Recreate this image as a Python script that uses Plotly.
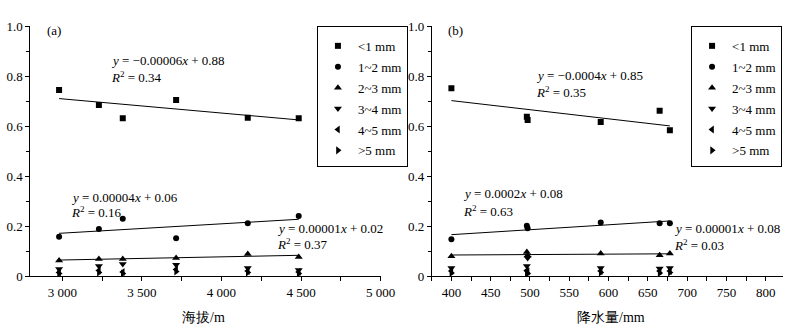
import numpy as np
import plotly.graph_objects as go

# ---------------- data ----------------
classes = ["<1 mm", "1~2 mm", "2~3 mm", "3~4 mm", "4~5 mm", ">5 mm"]

altitude = [2980, 3230, 3380, 3715, 4165, 4485]
a_lt1 = [0.744, 0.684, 0.631, 0.704, 0.633, 0.631]
a_1_2 = [0.157, 0.188, 0.229, 0.151, 0.211, 0.240]
a_2_3 = [0.062, 0.068, 0.068, 0.072, 0.088, 0.076]
a_3_4 = [0.028, 0.040, 0.048, 0.045, 0.032, 0.024]
a_4_5 = [0.014, 0.022, 0.016, 0.026, 0.020, 0.016]
a_gt5 = [0.010, 0.014, 0.010, 0.018, 0.014, 0.010]

precip = [400, 496, 497, 590, 665, 678]
b_lt1 = [0.751, 0.637, 0.624, 0.616, 0.661, 0.583]
b_1_2 = [0.147, 0.201, 0.191, 0.214, 0.211, 0.211]
b_2_3 = [0.079, 0.096, 0.082, 0.090, 0.083, 0.090]
b_3_4 = [0.032, 0.040, 0.072, 0.032, 0.030, 0.032]
b_4_5 = [0.020, 0.022, 0.018, 0.020, 0.020, 0.020]
b_gt5 = [0.012, 0.012, 0.010, 0.014, 0.012, 0.014]

eq_a = ["<i>y</i> = −0.00006<i>x</i> + 0.88", "<i>y</i> = 0.00004<i>x</i> + 0.06", "<i>y</i> = 0.00001<i>x</i> + 0.02"]
r2_a = ["<i>R</i><sup>2</sup> = 0.34", "<i>R</i><sup>2</sup> = 0.16", "<i>R</i><sup>2</sup> = 0.37"]
eq_b = ["<i>y</i> = −0.0004<i>x</i> + 0.85", "<i>y</i> = 0.0002<i>x</i> + 0.08", "<i>y</i> = 0.00001<i>x</i> + 0.08"]
r2_b = ["<i>R</i><sup>2</sup> = 0.35", "<i>R</i><sup>2</sup> = 0.63", "<i>R</i><sup>2</sup> = 0.03"]

y_ticks = [0, 0.2, 0.4, 0.6, 0.8, 1.0]
y_ticktext = ["0", "0.2", "0.4", "0.6", "0.8", "1.0"]
xa_ticks = [3000, 3500, 4000, 4500, 5000]
xa_ticktext = ["3 000", "3 500", "4 000", "4 500", "5 000"]
xb_ticks = [400, 450, 500, 550, 600, 650, 700, 750, 800]

# ---------------- figure ----------------
FONT = "Liberation Serif, Times New Roman, serif"
symbols = ["square", "circle", "triangle-up", "triangle-down", "triangle-left", "triangle-right"]
sizes = [6, 6, 7, 7, 7, 7]

fig = go.Figure()

def add_panel(xv, series, xaxis, yaxis, legend):
    for i, (name, yv) in enumerate(zip(classes, series)):
        fig.add_trace(go.Scatter(
            x=xv, y=yv, mode="markers", name=name,
            marker=dict(symbol=symbols[i], size=sizes[i], color="black"),
            xaxis=xaxis, yaxis=yaxis, legend=legend, legendgroup=legend + str(i),
        ))
    for yv in series[:3]:
        k, b = np.polyfit(xv, yv, 1)
        xs = np.array([min(xv), max(xv)])
        fig.add_trace(go.Scatter(
            x=xs, y=k * xs + b, mode="lines", line=dict(color="black", width=1),
            showlegend=False, hoverinfo="skip", xaxis=xaxis, yaxis=yaxis,
        ))

add_panel(altitude, [a_lt1, a_1_2, a_2_3, a_3_4, a_4_5, a_gt5], "x", "y", "legend")
add_panel(precip, [b_lt1, b_1_2, b_2_3, b_3_4, b_4_5, b_gt5], "x2", "y2", "legend2")

W, H = 800, 328
ML, MR, MT, MB = 0, 0, 26, 52

axis_common = dict(showline=True, linecolor="black", linewidth=1, showgrid=False,
                   zeroline=False, ticks="outside", ticklen=4, tickcolor="black",
                   tickfont=dict(family=FONT, size=13, color="black"))

legend_common = dict(yanchor="top", y=1.0, bordercolor="black", borderwidth=1,
                     bgcolor="white", itemwidth=30, tracegroupgap=1,
                     font=dict(family=FONT, size=13, color="black"),
                     title=dict(text=" ", font=dict(size=3)))

fig.update_layout(
    width=W, height=H,
    margin=dict(l=ML, r=MR, t=MT, b=MB),
    paper_bgcolor="white", plot_bgcolor="white",
    font=dict(family=FONT, size=13, color="black"),
    xaxis=dict(domain=[31 / W, 388 / W], range=[2800, 5000], tickvals=xa_ticks, ticktext=xa_ticktext,
               minor=dict(dtick=250, ticks="outside", ticklen=4, tickcolor="black"), anchor="y", **axis_common),
    yaxis=dict(domain=[0, 1], range=[0, 1], tickvals=y_ticks, ticktext=y_ticktext, anchor="x",
               minor=dict(dtick=0.1, ticks="outside", ticklen=3, tickcolor="black"), **axis_common),
    xaxis2=dict(domain=[440 / W, 798 / W], range=[375, 822], tickvals=xb_ticks,
                minor=dict(dtick=25, ticks="outside", ticklen=4, tickcolor="black"), anchor="y2", **axis_common),
    yaxis2=dict(domain=[0, 1], range=[0, 1], tickvals=y_ticks, ticktext=y_ticktext, anchor="x2",
                minor=dict(dtick=0.1, ticks="outside", ticklen=3, tickcolor="black"), **axis_common),
    legend=dict(x=323 / W, xanchor="left", **legend_common),
    legend2=dict(x=797 / W, xanchor="right", **legend_common),
    showlegend=True,
)

def px_x(p):
    return (p - ML) / (W - ML - MR)

def px_y(p):
    return 1 - (p - MT) / (H - MT - MB)

ann = []
def text(s, x, y, xanchor="left", size=13):
    ann.append(dict(text=s, x=px_x(x), y=px_y(y), xref="paper", yref="paper",
                    xanchor=xanchor, yanchor="middle", showarrow=False,
                    font=dict(family=FONT, size=size, color="black")))

text("(a)", 46, 30)
text("(b)", 455, 30)
text(eq_a[0], 111, 60); text(r2_a[0], 111, 77)
text(eq_a[1], 70, 197); text(r2_a[1], 70, 212)
text(eq_a[2], 280, 228); text(r2_a[2], 280, 244)
text(eq_b[0], 544, 76); text(r2_b[0], 544, 92)
text(eq_b[1], 470, 193); text(r2_b[1], 470, 211)
text(eq_b[2], 685, 228); text(r2_b[2], 685, 245)
text("海拔/m", 207, 317, xanchor="center", size=14)
text("降水量/mm", 623, 317, xanchor="center", size=14)
fig.update_layout(annotations=ann)

fig.write_html("out.html")
